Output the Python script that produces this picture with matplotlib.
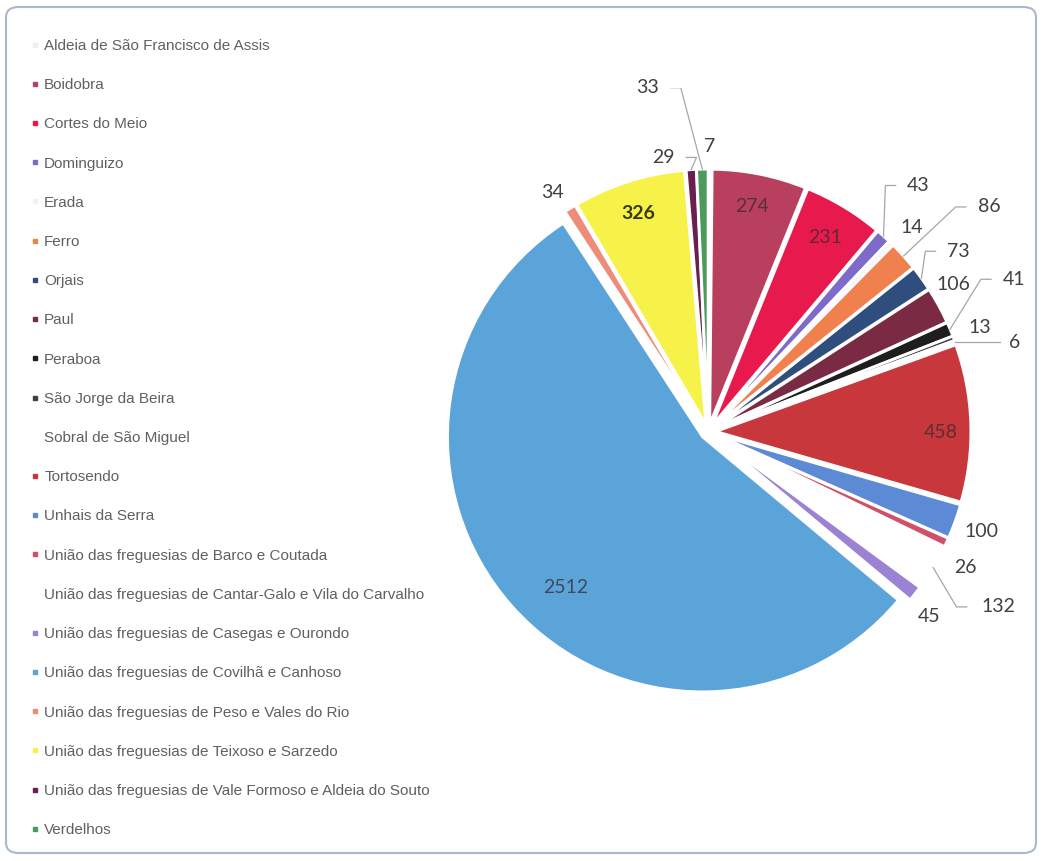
import matplotlib
matplotlib.use('Agg')
import matplotlib.pyplot as plt
import numpy as np
from matplotlib.lines import Line2D
from matplotlib.patches import FancyBboxPatch

freguesias = [
    "Aldeia de São Francisco de Assis",
    "Boidobra",
    "Cortes do Meio",
    "Dominguizo",
    "Erada",
    "Ferro",
    "Orjais",
    "Paul",
    "Peraboa",
    "São Jorge da Beira",
    "Sobral de São Miguel",
    "Tortosendo",
    "Unhais da Serra",
    "União das freguesias de Barco e Coutada",
    "União das freguesias de Cantar-Galo e Vila do Carvalho",
    "União das freguesias de Casegas e Ourondo",
    "União das freguesias de Covilhã e Canhoso",
    "União das freguesias de Peso e Vales do Rio",
    "União das freguesias de Teixoso e Sarzedo",
    "União das freguesias de Vale Formoso e Aldeia do Souto",
    "Verdelhos",
]
valores = [7, 274, 231, 43, 14, 86, 73, 106, 41, 13, 6, 458, 100, 26, 132, 45, 2512, 34, 326, 29, 33]

cores = ["#EFEFEF", "#B8405E", "#E8194C", "#7E6BC9", "#F2F2F2", "#F0804E", "#2F4E7E",
         "#7B2A43", "#1E1E1E", "#404040", "#FFFFFF", "#C8373C", "#5C8AD4", "#D0506A",
         "#FFFFFF", "#9B82D2", "#5BA4D9", "#EE8C7A", "#F6F24A", "#6A1F4F", "#4C9A5C"]

# label layout: (radius, clockwise angle from 12 o'clock)
lbl_pos = [(1.12, 0.2), (0.90, 11.1), (0.89, 31.1), (1.27, 40.5), (1.13, 45.0), (1.41, 51.3),
           (1.21, 54.2), (1.12, 59.0), (1.34, 63.5), (1.14, 68.9), (1.25, 73.7), (0.91, 90.2),
           (1.14, 110.0), (1.14, 117.9), (1.33, 121.1), (1.13, 130.0), (0.83, 222.5),
           (1.12, 327.0), (0.90, 342.3), (1.09, 350.7), (1.37, 350.0)]
inside = {1, 2, 11, 16, 18}
leaders = {3, 5, 6, 8, 10, 14, 19, 20}

fig = plt.figure(figsize=(10.44, 8.61), dpi=100)
fig.patch.set_facecolor('white')

frame = FancyBboxPatch((6/1044, 8/861), 1030/1044, 846/861,
                       boxstyle="round,pad=0,rounding_size=0.012",
                       transform=fig.transFigure, facecolor='none',
                       edgecolor='#A9B8CC', linewidth=1.5, zorder=10)
fig.patches.append(frame)

ax = fig.add_axes([364/1044, 85/861, 688.5/1044, 688.5/861])
wedges, _ = ax.pie(valores, colors=cores, startangle=90, counterclock=False,
                   explode=[0.03]*len(valores), radius=1,
                   wedgeprops=dict(edgecolor='white', linewidth=2))
ax.set_xlim(-1.35, 1.35)
ax.set_ylim(-1.35, 1.35)
ax.set_aspect('equal')
ax.axis('off')

for i, (w, v) in enumerate(zip(wedges, valores)):
    r, cw = lbl_pos[i]
    a = np.deg2rad(90 - cw)
    lx, ly = r*np.cos(a), r*np.sin(a)
    if i in inside:
        if i == 18:
            ax.text(lx, ly, str(v), ha='center', va='center', fontsize=14,
                    fontweight='bold', color='#3A3A12', family='Lato')
        else:
            ax.text(lx, ly, str(v), ha='center', va='center', fontsize=14,
                    color='#3A2A30', alpha=0.75, family='Lato')
    else:
        ax.text(lx, ly, str(v), ha='center', va='center', fontsize=14,
                color='#404040', family='Lato')
    if i in leaders:
        mid = np.deg2rad((w.theta1 + w.theta2) / 2)
        ex = 1.03
        px, py = ex*np.cos(mid), ex*np.sin(mid)
        hw = 0.035 * len(str(v)) + 0.02
        s = 1 if lx > px else -1
        x0 = lx - s*hw
        x1 = x0 - s*0.04
        if i == 10:
            ax.plot([x0, px], [ly, ly], color='#A6A6A6', lw=0.9)
        else:
            ax.plot([x0, x1, px], [ly, ly, py], color='#A6A6A6', lw=0.9)

handles = [Line2D([0], [0], marker='s', linestyle='', markerfacecolor=c,
                  markeredgecolor=c, markersize=2.5) for c in cores]
fig.legend(handles, freguesias, loc='upper left',
           bbox_to_anchor=(32/1044, 1 - 39/861), frameon=False,
           prop=dict(family='Liberation Sans', size=11), labelcolor='#606060',
           labelspacing=1.65, handlelength=0.4, handletextpad=0.4,
           borderaxespad=0, borderpad=0)

fig.savefig('out.png', dpi=100, facecolor='white')
